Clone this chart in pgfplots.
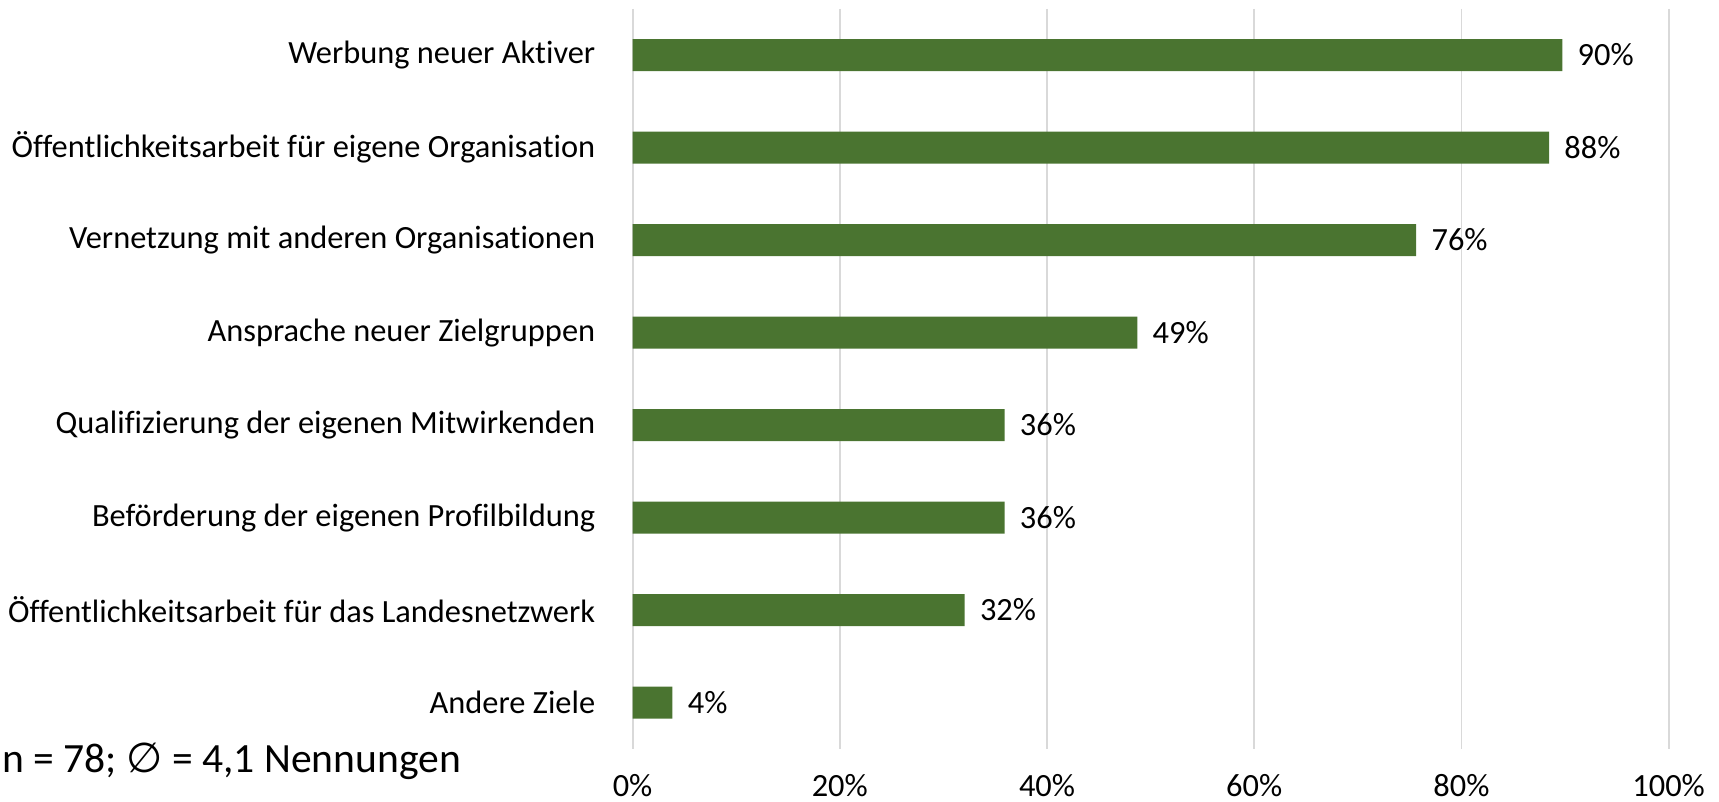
\documentclass[border=0pt]{standalone}
\usepackage{pgfplots}
\pgfplotsset{compat=1.18}
\usepackage{fontspec}
\setmainfont{Carlito}[Ligatures={NoCommon}]
\newfontfamily\dejavu{DejaVu Sans}
\definecolor{barg}{RGB}{74,116,48}
\definecolor{gridc}{RGB}{217,217,217}
\begin{document}
\begin{tikzpicture}
\useasboundingbox (0,0) rectangle (859.5bp,401bp);
\begin{axis}[
  at={(316.3bp,26.6bp)}, anchor=south west,
  width=518bp, height=370bp, scale only axis,
  xbar, bar width=16bp,
  xmin=0, xmax=100,
  ymin=-0.5, ymax=7.5, y dir=reverse,
  ytick={0,...,7},
  yticklabels={Werbung neuer Aktiver,
    Öffentlichkeitsarbeit für eigene Organisation,
    Vernetzung mit anderen Organisationen,
    Ansprache neuer Zielgruppen,
    Qualifizierung der eigenen Mitwirkenden,
    Beförderung der eigenen Profilbildung,
    Öffentlichkeitsarbeit für das Landesnetzwerk,
    Andere Ziele},
  xtick={0,20,40,60,80,100},
  xticklabel={\pgfmathprintnumber{\tick}\%},
  xmajorgrids, major grid style={gridc, line width=0.9bp},
  axis line style={draw=none},
  major tick length=0pt,
  tick label style={font=\fontsize{16.2bp}{19bp}\selectfont},
  yticklabel style={anchor=east, inner sep=0pt, xshift=-18.5bp},
  xticklabel style={anchor=center, inner sep=0pt, yshift=-18.5bp},
  /pgf/number format/assume math mode=true,
  point meta=x,
  nodes near coords={\pgfmathprintnumber[fixed,precision=0]{\pgfplotspointmeta}\%},
  every node near coord/.append style={anchor=west, inner sep=0pt, xshift=7.5bp, font=\fontsize{16.2bp}{19bp}\selectfont, text=black},
]
\addplot[fill=barg, draw=none] coordinates {
  (89.74,0) (88.46,1) (75.64,2) (48.72,3) (35.90,4) (35.90,5) (32.05,6) (3.85,7)};
\end{axis}
\node[anchor=west, inner sep=0pt, font=\fontsize{20.8bp}{24bp}\selectfont] at (1bp,20.5bp) {n = 78; {\dejavu ∅} = 4,1 Nennungen};
\end{tikzpicture}
\end{document}
